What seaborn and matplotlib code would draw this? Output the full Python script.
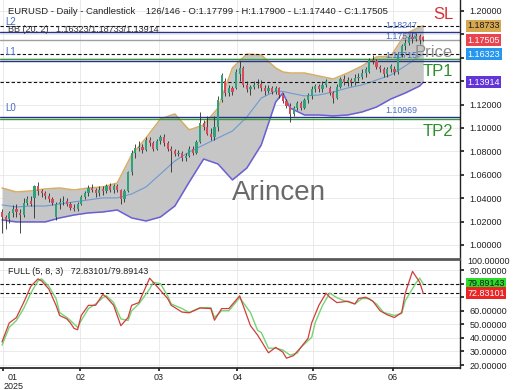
import numpy as np
import pandas as pd
import matplotlib
matplotlib.use("Agg")
import matplotlib.pyplot as plt
import seaborn as sns

# ---- daily candles (bar index 0..117) ----
opens = [1.028, 1.024, 1.022, 1.027, 1.031, 1.027, 1.026, 1.036, 1.038, 1.040,
         1.050, 1.046, 1.044, 1.042, 1.039, 1.024, 1.035, 1.037, 1.038, 1.035,
         1.032, 1.031, 1.035, 1.041, 1.044, 1.049, 1.047, 1.044, 1.048, 1.046,
         1.050, 1.047, 1.050, 1.047, 1.039, 1.046, 1.062, 1.079, 1.083, 1.084,
         1.081, 1.090, 1.087, 1.082, 1.089, 1.092, 1.087, 1.082, 1.080, 1.078,
         1.079, 1.074, 1.076, 1.082, 1.079, 1.088, 1.104, 1.101, 1.095, 1.092,
         1.101, 1.124, 1.140, 1.130, 1.134, 1.134, 1.146, 1.151, 1.137, 1.133,
         1.135, 1.137, 1.138, 1.134, 1.132, 1.134, 1.131, 1.134, 1.128, 1.123,
         1.119, 1.112, 1.117, 1.121, 1.117, 1.124, 1.127, 1.133, 1.136, 1.133,
         1.137, 1.134, 1.130, 1.126, 1.135, 1.142, 1.139, 1.141, 1.139, 1.143,
         1.144, 1.147, 1.148, 1.158, 1.157, 1.152, 1.150, 1.146, 1.150, 1.150,
         1.148, 1.163, 1.170, 1.173, 1.178, 1.176, 1.179, 1.17799]
highs = [1.031, 1.026, 1.029, 1.034, 1.035, 1.031, 1.040, 1.042, 1.042, 1.051,
         1.054, 1.048, 1.046, 1.044, 1.041, 1.037, 1.040, 1.042, 1.040, 1.037,
         1.035, 1.037, 1.043, 1.046, 1.051, 1.052, 1.049, 1.050, 1.050, 1.052,
         1.053, 1.052, 1.052, 1.048, 1.048, 1.063, 1.081, 1.086, 1.089, 1.086,
         1.092, 1.092, 1.089, 1.091, 1.094, 1.095, 1.089, 1.085, 1.082, 1.081,
         1.080, 1.079, 1.085, 1.085, 1.090, 1.114, 1.107, 1.110, 1.100, 1.110,
         1.127, 1.147, 1.143, 1.137, 1.136, 1.150, 1.157, 1.153, 1.140, 1.137,
         1.140, 1.142, 1.141, 1.137, 1.137, 1.136, 1.136, 1.135, 1.130, 1.125,
         1.121, 1.119, 1.123, 1.123, 1.126, 1.130, 1.136, 1.138, 1.138, 1.140,
         1.142, 1.136, 1.132, 1.138, 1.144, 1.145, 1.144, 1.143, 1.146, 1.147,
         1.150, 1.152, 1.160, 1.162, 1.159, 1.154, 1.152, 1.152, 1.155, 1.153,
         1.165, 1.172, 1.176, 1.180, 1.182, 1.181, 1.180, 1.17900]
lows = [1.010, 1.014, 1.019, 1.024, 1.024, 1.010, 1.024, 1.034, 1.033, 1.023,
        1.043, 1.041, 1.039, 1.037, 1.034, 1.021, 1.031, 1.034, 1.033, 1.030,
        1.029, 1.029, 1.034, 1.039, 1.042, 1.045, 1.041, 1.042, 1.043, 1.044,
        1.045, 1.044, 1.045, 1.035, 1.037, 1.045, 1.060, 1.074, 1.080, 1.079,
        1.080, 1.085, 1.080, 1.081, 1.086, 1.085, 1.080, 1.062, 1.076, 1.076,
        1.072, 1.072, 1.075, 1.077, 1.078, 1.087, 1.098, 1.094, 1.090, 1.090,
        1.097, 1.122, 1.127, 1.127, 1.128, 1.133, 1.140, 1.135, 1.131, 1.128,
        1.133, 1.134, 1.132, 1.128, 1.130, 1.129, 1.129, 1.126, 1.121, 1.117,
        1.105, 1.110, 1.115, 1.115, 1.116, 1.121, 1.125, 1.131, 1.131, 1.131,
        1.135, 1.128, 1.121, 1.125, 1.134, 1.137, 1.136, 1.136, 1.137, 1.140,
        1.142, 1.144, 1.147, 1.155, 1.150, 1.148, 1.144, 1.144, 1.148, 1.145,
        1.146, 1.161, 1.167, 1.171, 1.173, 1.174, 1.172, 1.17440]
closes = [1.024, 1.021, 1.027, 1.031, 1.028, 1.026, 1.036, 1.039, 1.035, 1.050,
          1.046, 1.044, 1.042, 1.039, 1.036, 1.035, 1.037, 1.038, 1.035, 1.032,
          1.031, 1.035, 1.041, 1.044, 1.049, 1.047, 1.044, 1.047, 1.046, 1.050,
          1.047, 1.050, 1.047, 1.039, 1.046, 1.062, 1.079, 1.083, 1.084, 1.081,
          1.090, 1.087, 1.082, 1.089, 1.092, 1.087, 1.082, 1.080, 1.078, 1.079,
          1.074, 1.076, 1.082, 1.079, 1.088, 1.104, 1.101, 1.095, 1.092, 1.101,
          1.124, 1.145, 1.130, 1.134, 1.131, 1.148, 1.151, 1.137, 1.133, 1.135,
          1.137, 1.138, 1.134, 1.132, 1.134, 1.131, 1.134, 1.128, 1.123, 1.119,
          1.112, 1.117, 1.121, 1.117, 1.124, 1.128, 1.133, 1.136, 1.133, 1.137,
          1.140, 1.130, 1.126, 1.135, 1.142, 1.139, 1.141, 1.139, 1.143, 1.144,
          1.147, 1.150, 1.158, 1.157, 1.152, 1.150, 1.146, 1.150, 1.153, 1.148,
          1.163, 1.170, 1.173, 1.178, 1.176, 1.179, 1.175, 1.17505]

# ---- Bollinger bands (20, 2), read at these bars ----
bb_bars = [0, 4, 8, 12, 16, 20, 24, 28, 32, 36, 40, 44, 48, 52, 56, 60, 64,
           68, 72, 76, 78, 80, 84, 88, 92, 96, 100, 104, 108, 112, 116, 117]
bb_upper = [1.0487, 1.0453, 1.0462, 1.0479, 1.0487, 1.0470, 1.0487, 1.0496,
            1.0530, 1.0769, 1.0915, 1.1077, 1.1120, 1.0983, 1.1026, 1.1171,
            1.1513, 1.1632, 1.1624, 1.1513, 1.1479, 1.1470, 1.1470, 1.1444,
            1.1419, 1.1470, 1.1530, 1.1607, 1.1615, 1.1803, 1.1863, 1.18733]
bb_middle = [1.0342, 1.0325, 1.0333, 1.0333, 1.0350, 1.0368, 1.0385, 1.0402,
             1.0402, 1.0436, 1.0496, 1.0607, 1.0718, 1.0795, 1.0855, 1.0915,
             1.0974, 1.1094, 1.1256, 1.1316, 1.1312, 1.1299, 1.1274, 1.1282,
             1.1308, 1.1342, 1.1368, 1.1410, 1.1453, 1.1530, 1.1615, 1.16323]
bb_lower = [1.0214, 1.0197, 1.0197, 1.0197, 1.0231, 1.0256, 1.0274, 1.0282,
            1.0299, 1.0231, 1.0205, 1.0239, 1.0333, 1.0538, 1.0735, 1.0692,
            1.0556, 1.0658, 1.0855, 1.1222, 1.1299, 1.1171, 1.1111, 1.1111,
            1.1103, 1.1111, 1.1137, 1.1179, 1.1248, 1.1299, 1.1359, 1.13914]

# ---- Full stochastic (5, 8, 3) ----
k_bars = [0, 2, 4, 6, 8, 10, 11, 13, 15, 16, 18, 19, 20, 21, 22, 24, 26, 28, 29,
          31, 33, 35, 36, 38, 41, 43, 46, 47, 50, 52, 55, 58, 59, 61, 63, 66, 69,
          71, 74, 76, 78, 79, 81, 83, 85, 86, 88, 90, 91, 93, 96, 98, 99, 101,
          103, 105, 107, 109, 111, 112, 114, 116, 117]
k_vals = [37, 51, 55, 66, 78, 83.5, 82, 76, 64, 56.5, 54, 51, 47, 46, 56.5, 64,
          64, 72, 70, 64, 49, 55, 64, 66, 84, 78, 69, 64, 59, 58.5, 62, 61.6,
          53, 61.6, 61.6, 71, 49, 42, 29, 33, 29.5, 25, 27, 33, 39.7, 51, 64,
          73, 70, 66, 67, 65, 69, 70, 67, 60, 57, 55, 58.7, 73, 89, 81, 72.83101]
d_bars = [0, 2, 4, 6, 8, 10, 11, 13, 15, 16, 18, 19, 21, 22, 24, 26, 28, 29, 31,
          33, 35, 36, 38, 41, 42, 44, 46, 47, 50, 52, 55, 58, 59, 61, 63, 66, 69,
          71, 72, 74, 76, 78, 80, 82, 83, 86, 87, 89, 91, 93, 95, 98, 100, 102,
          104, 106, 109, 111, 112, 115, 116, 117]
d_vals = [34.6, 47.7, 52.8, 61.6, 73, 82, 83.5, 78, 69, 58.7, 55, 52.8, 47.7,
          52.8, 61.6, 65, 69.6, 71, 66, 54, 52.8, 60, 65, 76, 81, 80, 71, 65,
          61.6, 58.7, 62.3, 62.3, 55, 60, 60, 69.6, 58.7, 45.5, 44, 32.4, 32.4,
          31, 27.3, 28.8, 33, 40.4, 51.4, 63.8, 73, 69.6, 67.4, 65, 69, 69, 65,
          58.7, 56.5, 58, 67.4, 80.6, 84, 79.89143]

# ---- levels ----
bb_levels = [1.18733, 1.16323, 1.13914]
l_levels = [1.10969, 1.15715, 1.18247]
l_names = ["L0", "L1", "L2"]
l_texts = ["1.10969", "1.15715", "1.18247"]
tp_levels = [1.1590, 1.1077]
last_close = 1.17505
stoch_levels = [79.89143, 72.83101]

month_pos = [0.3, 21.7, 43.6, 65.3, 86.4, 108.6]
month_labels = ["01\n2025", "02", "03", "04", "05", "06"]

price_ticks = [1.00, 1.02, 1.04, 1.06, 1.08, 1.10, 1.12, 1.14, 1.16, 1.18, 1.20]
stoch_ticks = [20, 30, 40, 50, 60, 70, 80, 90]

sns.set_theme(style="whitegrid")
plt.rcParams['font.family'] = ['Liberation Sans', 'DejaVu Sans']
plt.rcParams['grid.color'] = '#e6e6e6'
plt.rcParams['grid.linewidth'] = 0.6

fig = plt.figure(figsize=(5.2, 3.9), dpi=100)
fig.patch.set_facecolor('white')
ax = fig.add_axes([0, 1 - 259 / 390, 460 / 520, 259 / 390])
ax2 = fig.add_axes([0, 1 - 368 / 390, 460 / 520, 108 / 390], sharex=ax)
for a in (ax, ax2):
    a.set_facecolor('white')
    for s in a.spines.values():
        s.set_visible(False)
    a.spines['right'].set_visible(True)
    a.spines['right'].set_color('#222222')
    a.spines['right'].set_linewidth(1)
ax.spines['bottom'].set_visible(True)
ax.spines['bottom'].set_color('#555555')
ax2.spines['top'].set_visible(True)
ax2.spines['top'].set_color('#555555')
ax2.spines['bottom'].set_visible(True)
ax2.spines['bottom'].set_color('#222222')

# ---- main panel ----
df = pd.DataFrame({'o': opens, 'h': highs, 'l': lows, 'c': closes})
df['bar'] = np.arange(len(df))
up = df['c'] >= df['o']
body_lo = df[['o', 'c']].min(axis=1)
body_h = (df['c'] - df['o']).abs().clip(lower=0.0005)

ax.fill_between(bb_bars, bb_lower, bb_upper, color='#c6c6c6', zorder=1, lw=0)
sns.lineplot(x=bb_bars, y=bb_upper, ax=ax, color='#d6ad63', lw=1.1, zorder=2)
sns.lineplot(x=bb_bars, y=bb_lower, ax=ax, color='#6a5fd4', lw=1.1, zorder=2)
sns.lineplot(x=bb_bars, y=bb_middle, ax=ax, color='#6b9bd2', lw=0.8, zorder=2)

for v in bb_levels:
    ax.axhline(v, color='#111111', lw=0.8, ls=(0, (3, 2)), zorder=2.5)
for v in l_levels:
    ax.axhline(v, color='#27328a', lw=1.0, zorder=2.5)
for v in tp_levels:
    ax.axhline(v, color='#3c9a3c', lw=1.0, zorder=2.5)
ax.axhline(last_close, color='#a0a0a0', lw=1.0, zorder=2.5)

ax.vlines(df['bar'], df['l'], df['h'], color='#2b2b2b', lw=0.6, zorder=3)
ax.bar(df['bar'], body_h, bottom=body_lo, width=0.62,
       color=np.where(up, '#2ea27a', '#d94a58'), lw=0, zorder=4)

ax.set_xlim(-0.56, 127.2)
ax.set_ylim(0.988, 1.2094)
ax.set_yticks(price_ticks)
ax.set_yticklabels(["" if t in (1.14, 1.16, 1.18) else f"{t:.5f}" for t in price_ticks])
ax.yaxis.tick_right()
ax.tick_params(axis='y', labelsize=6.5, length=3, pad=4, colors='#222222', right=True)
ax.tick_params(axis='x', labelbottom=False, length=0)
ax.set_xticks(month_pos)
ax.set_xlabel("")
ax.set_ylabel("")
ax.grid(True, zorder=0)

for v, name, t in zip(l_levels, l_names, l_texts):
    ax.text(1.0, v + 0.0035, name, color='#4a6cc4', fontsize=7, va='bottom', zorder=5)
    ax.text(106.5, v + 0.0012, t, color='#4a6cc4', fontsize=6.3, va='bottom', zorder=5)
ax.text(106.5, 1.1741, "1.17537", color='#4a6cc4', fontsize=6.3, va='bottom', zorder=5)

ax.text(125.3, 1.1974, "SL", color='#d83232', fontsize=12, ha='right', va='center', zorder=5)
ax.text(125.3, 1.1641, "Price", color='#8c8c8c', fontsize=12, ha='right', va='center', zorder=5)
ax.text(125.3, 1.1479, "TP1", color='#2f8f2f', fontsize=12, ha='right', va='center', zorder=5)
ax.text(125.3, 1.0974, "TP2", color='#2f8f2f', fontsize=12, ha='right', va='center', zorder=5)
ax.text(76.8, 1.0444, "Arincen", color='#5a5a5a', fontsize=20, ha='center', va='center',
        alpha=0.9, zorder=5)

ytr = ax.get_yaxis_transform()
boxes = [(1.18733, '#d6a74e', '#1a1a1a'), (1.17505, '#e8434f', 'white'),
         (1.16323, '#2696ef', 'white'), (1.13914, '#6335d8', 'white')]
for v, bg, fg in boxes:
    ax.text(1.016, v, f"{v:.5f}", transform=ytr, color=fg, fontsize=6.5, ha='left',
            va='center', clip_on=False, zorder=6,
            bbox=dict(boxstyle='square,pad=0.18', fc=bg, ec='none'))

fig.text(8 / 520, 1 - 12 / 390,
         "EURUSD - Daily - Candlestick    126/146 - O:1.17799 - H:1.17900 - L:1.17440 - C:1.17505",
         fontsize=6.8, color='#222222', va='center')
fig.text(8 / 520, 1 - 30 / 390, "BB (20, 2)   1.16323/1.18733/1.13914",
         fontsize=6.5, color='#333333', va='center')

# ---- stochastic panel ----
sns.lineplot(x=d_bars, y=d_vals, ax=ax2, color='#72d672', lw=1.0, zorder=3)
sns.lineplot(x=k_bars, y=k_vals, ax=ax2, color='#d23c3c', lw=0.9, zorder=4)
for v in stoch_levels:
    ax2.axhline(v, color='#111111', lw=0.8, ls=(0, (3, 2)), zorder=2)
ax2.set_ylim(17.8, 97.4)
ax2.set_yticks(stoch_ticks)
ax2.set_yticklabels(["" if t in (70, 80) else f"{t:.5f}" for t in stoch_ticks])
ax2.yaxis.tick_right()
ax2.tick_params(axis='y', labelsize=6.5, length=3, pad=4, colors='#222222', right=True)
ax2.set_xticks(month_pos)
ax2.set_xticklabels(month_labels)
ax2.tick_params(axis='x', labelsize=6.5, length=2, pad=1.5, colors='#222222', bottom=True)
xl = ax2.get_xticklabels()
xl[0].set_ha('left')
xl[0].set_multialignment('center')
xl[0].set_linespacing(0.95)
ax2.set_xlim(-0.56, 127.2)
ax2.set_xlabel("")
ax2.set_ylabel("")
ax2.grid(True, zorder=0)

ytr2 = ax2.get_yaxis_transform()
ax2.text(1.016, 96.0, "100.00000", transform=ytr2, fontsize=6.5, color='#222222',
         va='center', clip_on=False)
for v, bg, fg in [(79.89143, '#2bdc2b', '#1a1a1a'), (72.83101, '#ec2323', 'white')]:
    ax2.text(1.016, v, f"{v:.5f}", transform=ytr2, color=fg, fontsize=6.5, ha='left',
             va='center', clip_on=False, zorder=6,
             bbox=dict(boxstyle='square,pad=0.18', fc=bg, ec='none'))

fig.text(8 / 520, 1 - 272 / 390, "FULL (5, 8, 3)   72.83101/79.89143",
         fontsize=6.5, color='#222222', va='center')

fig.savefig("out.png", dpi=100)
